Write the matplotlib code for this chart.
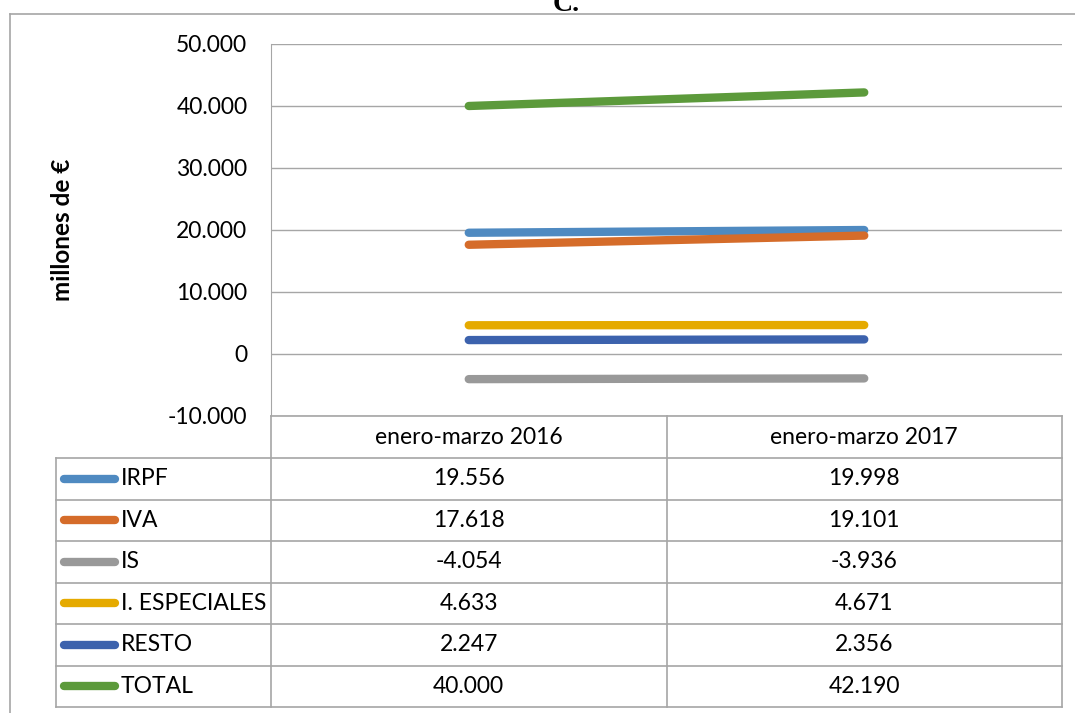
import matplotlib.pyplot as plt
from matplotlib.lines import Line2D
import matplotlib.transforms as mtransforms

# data
periods = ["enero-marzo 2016", "enero-marzo 2017"]
series = ["IRPF", "IVA", "IS", "I. ESPECIALES", "RESTO", "TOTAL"]
irpf = [19556, 19998]
iva = [17618, 19101]
is_ = [-4054, -3936]
especiales = [4633, 4671]
resto = [2247, 2356]
total = [40000, 42190]
yticks = [-10000, 0, 10000, 20000, 30000, 40000, 50000]

values = [irpf, iva, is_, especiales, resto, total]
colors = ["#4F8AC1", "#D56C2A", "#999999", "#E5AA00", "#3C62AD", "#5C9A3B"]

plt.rcParams["font.family"] = ["Lato", "DejaVu Sans"]
GRID = "#A6A6A6"
FS = 16.5
LW = 6
W, H = 1075, 713


def fx(px):
    return px / W


def fy(py):
    return 1 - py / H


def fmt(v):
    return f"{v:,}".replace(",", ".")


fig = plt.figure(figsize=(W / 100, H / 100), dpi=100)

# outer frame and cut-off title
fig.add_artist(Line2D([fx(10), 1], [fy(14), fy(14)], color=GRID, lw=1.2))
fig.add_artist(Line2D([fx(10), fx(10)], [fy(14), 0], color=GRID, lw=1.2))
fig.text(fx(566), fy(11), "C.", ha="center", va="baseline",
         family="Liberation Serif", fontweight="bold", fontsize=20)

ax = fig.add_axes([fx(271), fy(416), fx(1062) - fx(271), fy(44) - fy(416)])
for vals, c in zip(values, colors):
    ax.plot(range(len(periods)), vals, color=c, lw=LW, solid_capstyle="round")

ax.set_xlim(-0.5, len(periods) - 0.5)
ax.set_ylim(yticks[0], yticks[-1])
ax.set_yticks(yticks)
ax.set_yticklabels([fmt(t) for t in yticks], fontsize=FS)
ax.set_xticks([])
ax.tick_params(axis="y", length=0, pad=17)
ax.grid(axis="y", color=GRID, lw=1)
ax.set_axisbelow(True)
for s in ["top", "right", "bottom"]:
    ax.spines[s].set_visible(False)
ax.spines["left"].set_color(GRID)

fig.text(fx(62), fy(230), "millones de €", rotation=90, ha="center",
         va="center", fontweight="bold", fontsize=17.5)

# data table below the plot
rows_y = [416, 458, 499.5, 541, 582.5, 624, 665.5, 707]
x_left, x_axis, x_mid, x_right = 56, 271, 667, 1062


def hline(y, x0, x1):
    fig.add_artist(Line2D([fx(x0), fx(x1)], [fy(y), fy(y)], color=GRID, lw=1.2))


def vline(x, y0, y1):
    fig.add_artist(Line2D([fx(x), fx(x)], [fy(y0), fy(y1)], color=GRID, lw=1.2))


hline(rows_y[0], x_axis, x_right)
for y in rows_y[1:]:
    hline(y, x_left, x_right)
vline(x_left, rows_y[1], rows_y[-1])
vline(x_axis, rows_y[0], rows_y[-1])
vline(x_mid, rows_y[0], rows_y[-1])
vline(x_right, rows_y[0], rows_y[-1])

trans = mtransforms.blended_transform_factory(ax.transData, fig.transFigure)
hy = (rows_y[0] + rows_y[1]) / 2
for i, p in enumerate(periods):
    fig.text(i, fy(hy), p, transform=trans, ha="center", va="center", fontsize=FS)

for r, (name, vals, c) in enumerate(zip(series, values, colors)):
    cy = (rows_y[r + 1] + rows_y[r + 2]) / 2
    fig.add_artist(Line2D([fx(64), fx(115)], [fy(cy), fy(cy)], color=c,
                          lw=LW, solid_capstyle="round"))
    fig.text(fx(121), fy(cy), name, ha="left", va="center", fontsize=FS)
    for i, v in enumerate(vals):
        fig.text(i, fy(cy), fmt(v), transform=trans, ha="center",
                 va="center", fontsize=FS)

fig.savefig("out.png", dpi=100)
